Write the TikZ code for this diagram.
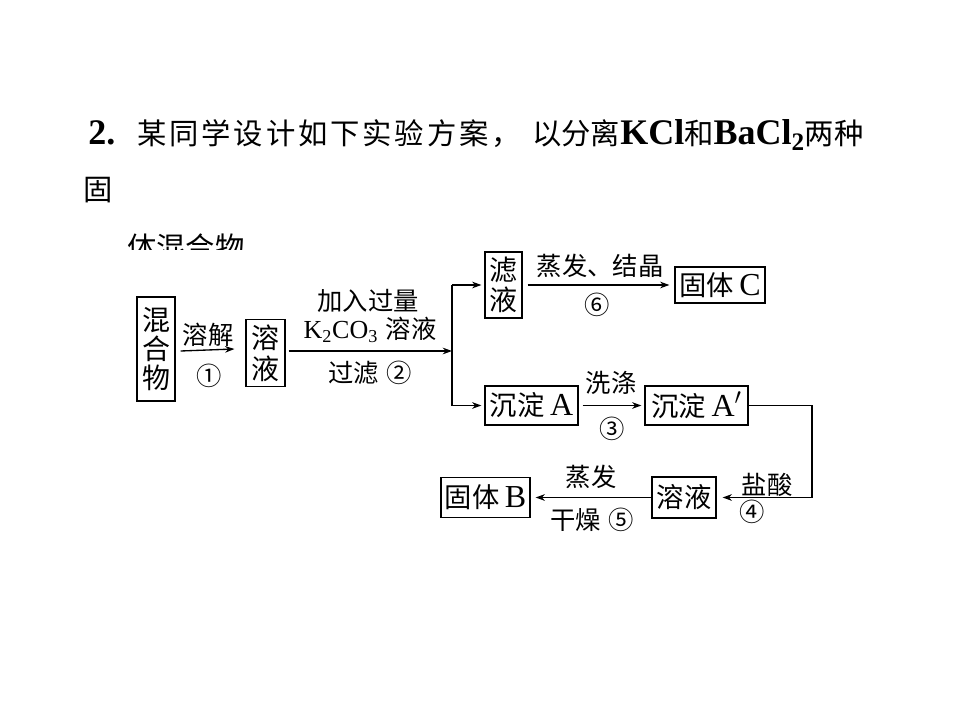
\documentclass[tikz,border=0pt]{standalone}
\usepackage{fontspec}
\setmainfont{Liberation Serif}
\newfontfamily\cjk{Noto Sans CJK SC}
\usetikzlibrary{arrows.meta}
\newcommand\tlat[1]{{\normalfont\bfseries\fontsize{27}{30}\selectfont #1}}
\newcommand\blat[1]{{\normalfont\fontsize{24}{27}\selectfont #1}}
\newcommand\llat[1]{{\normalfont\fontsize{19.5}{22}\selectfont #1}}
\begin{document}
\begin{tikzpicture}[x=0.75pt,y=-0.75pt,
  box/.style={draw, line width=0.9pt, inner sep=0pt, align=center,
              font=\cjk\fontsize{20.5}{23}\selectfont},
  vbox/.style={box, font=\cjk\fontsize{21}{23}\selectfont},
  lbl/.style={inner sep=0pt, font=\cjk\fontsize{19}{22}\selectfont},
  arr/.style={-{Stealth[length=7pt,width=5pt]}, line width=1pt},
  ln/.style={line width=1pt},
  tt/.style={inner sep=0pt, anchor=base west, font=\cjk\fontsize{22}{26}\selectfont}
]
\useasboundingbox[fill=white] (0,0) rectangle (960,720);

% title
\node[tt] (t0) at (88,145) {\tlat{2.}};
\foreach \ch [count=\i from 0] in {某,同,学,设,计,如,下,实,验,方,案,，}
  \node[tt] (tc\i) at ({137+\i*32.2},145) {\ch};
\node[tt] (t2) at (532,145) {以分离\tlat{KCl}和\tlat{BaCl\textsubscript{2}}两种};
\node[tt] (t3) at (83,201) {固};
\begin{scope}
  \clip (0,0) rectangle (960,250);
  \node[tt] (t4) at (127,259) {体混合物};
\end{scope}

% boxes
\node[vbox, font=\cjk\fontsize{21}{21.75}\selectfont, minimum width=28.5pt, minimum height=78pt] (mix) at (156,349) {混\\合\\物};
\node[vbox, minimum width=29.25pt, minimum height=50.25pt] (sol1) at (265.5,353) {溶\\液};
\node[vbox, minimum width=27.75pt, minimum height=49.5pt] (filt) at (503.5,285) {滤\\液};
\node[box, minimum width=67.5pt, minimum height=27pt] (solidC) at (720,285) {固体\hspace{0.2em}\blat{C}};
\node[box, minimum width=69.75pt, minimum height=29.25pt] (pptA) at (531.5,405.5) {沉淀\hspace{0.2em}\blat{A}};
\node[box, minimum width=77.25pt, minimum height=29.25pt] (pptA2) at (696.5,405.5) {沉淀\hspace{0.2em}\blat{A$'$}};
\node[box, minimum width=48pt, minimum height=30.75pt] (sol2) at (684,497.5) {溶液};
\node[box, minimum width=66.75pt, minimum height=30pt] (solidB) at (485.5,497.5) {固体\hspace{0.2em}\blat{B}};

% connectors
\coordinate (j) at (452,351);
\coordinate (jt) at (452,285);
\coordinate (jb) at (452,405.5);
\coordinate (c1) at (812,405.5);
\coordinate (c2) at (812,497.5);

\draw[arr] ([xshift=3.75pt,yshift=-1.5pt]mix.east) -- ([xshift=-8.25pt]mix.east -| sol1.west);
\draw[arr] ([xshift=2.25pt]sol1.east |- j) -- (j);
\draw[ln] (jt) -- (jb);
\draw[arr] (jt) -- ([xshift=-2.25pt]filt.west);
\draw[arr] (jb) -- ([xshift=-2.25pt]pptA.west);
\draw[arr] ([xshift=3.75pt]filt.east) -- ([xshift=-3.75pt]solidC.west);
\draw[arr] ([xshift=3pt]pptA.east) -- ([xshift=-2.25pt]pptA2.west);
\draw[arr] (pptA2.east) -- (c1) -- (c2) -- ([xshift=4.5pt]sol2.east);
\draw[arr] (sol2.west) -- ([xshift=3.75pt]solidB.east);

% labels
\node[lbl] (l1) at (208,335) {溶解};
\node[lbl] (n1) at (209,376) {①};
\node[lbl] (l2a) at (368,301) {加入过量};
\node[lbl] (l2b) at (370,330) {\llat{K\textsubscript{2}CO\textsubscript{3}}\hspace{0.3em}溶液};
\node[lbl] (l2c) at (370,373) {过滤\hspace{0.3em}②};
\node[lbl] (l6a) at (600,266) {蒸发、结晶};
\node[lbl] (l6b) at (597,305) {⑥};
\node[lbl] (l3a) at (611,383) {洗涤};
\node[lbl] (l3b) at (612,429) {③};
\node[lbl] (l4a) at (767,485) {盐酸};
\node[lbl] (l4b) at (752,512) {④};
\node[lbl] (l5a) at (591,477) {蒸发};
\node[lbl] (l5b) at (592,520) {干燥\hspace{0.3em}⑤};
\end{tikzpicture}
\end{document}
